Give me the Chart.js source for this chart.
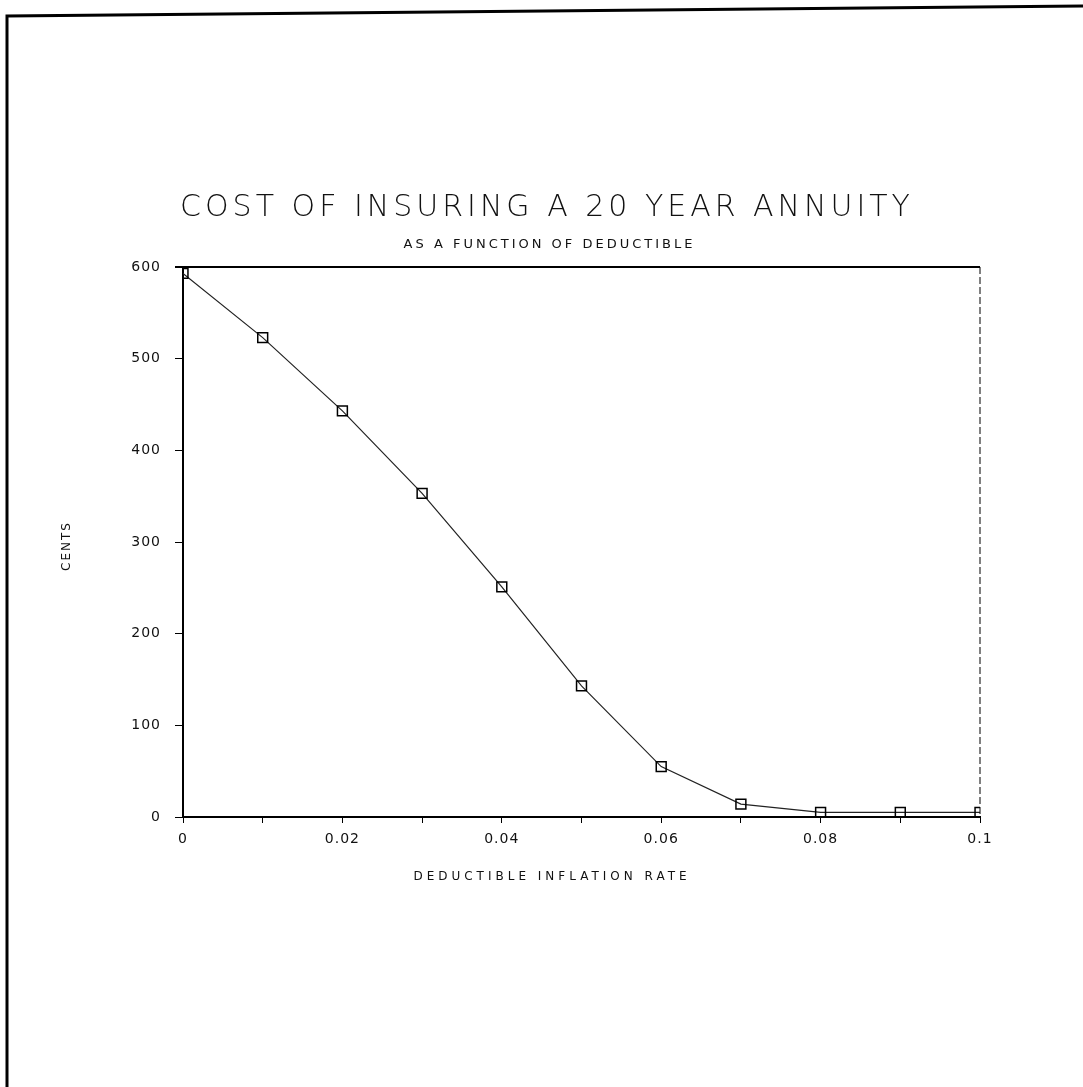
<!DOCTYPE html>
<html>
<head>
<meta charset="utf-8">
<title>Cost of insuring a 20 year annuity</title>
<script src="https://cdn.jsdelivr.net/npm/chart.js@4.4.1/dist/chart.umd.min.js"></script>
<style>
  html, body { margin: 0; padding: 0; background: #fff; }
  #wrap { width: 1083px; height: 1087px; }
</style>
</head>
<body>
<div id="wrap"><canvas id="annuityChart" width="1083" height="1087"></canvas></div>
<script>
// data
const rates = [0, 0.01, 0.02, 0.03, 0.04, 0.05, 0.06, 0.07, 0.08, 0.09, 0.1];
const costs = [593, 523, 443, 353, 251, 143, 55, 14, 5, 5, 5];
const xTickLabels = ['0', '0.02', '0.04', '0.06', '0.08', '0.1'];
const yTickLabels = ['0', '100', '200', '300', '400', '500', '600'];

const mainTitle = 'COST OF INSURING A 20 YEAR ANNUITY';
const subTitle = 'AS A FUNCTION OF DEDUCTIBLE';
const xTitle = 'DEDUCTIBLE INFLATION RATE';
const yTitle = 'CENTS';

const FONT = '"DejaVu Sans", "Liberation Sans", sans-serif';

// texte espacé (letterSpacing) dessiné à la main
function spacedText(ctx, text, x, y, font, spacing, rotate) {
    ctx.save();
    ctx.font = font;
    ctx.letterSpacing = spacing + 'px';
    ctx.fillStyle = '#111';
    ctx.textAlign = 'center';
    ctx.textBaseline = 'middle';
    ctx.translate(x, y);
    if (rotate) ctx.rotate(-Math.PI / 2);
    ctx.fillText(text, spacing / 2, 0);
    ctx.restore();
}

// cadre de la page + titres
const pagePlugin = {
    id: 'pageFrame',
    beforeDraw(chart) {
        const ctx = chart.ctx;
        ctx.save();
        ctx.fillStyle = '#fff';
        ctx.fillRect(0, 0, chart.width, chart.height);
        ctx.strokeStyle = '#000';
        ctx.lineWidth = 3;
        ctx.beginPath();
        ctx.moveTo(7, 1087);
        ctx.lineTo(7, 16);
        ctx.lineTo(1083, 6);
        ctx.stroke();
        ctx.restore();
        // espacement des graduations
        ctx.letterSpacing = '1px';
    },
    afterDraw(chart) {
        const ctx = chart.ctx;
        const area = chart.chartArea;
        ctx.save();
        ctx.strokeStyle = '#000';
        // bord haut, plein
        ctx.lineWidth = 2;
        ctx.beginPath();
        ctx.moveTo(area.left - 8, area.top);
        ctx.lineTo(area.right, area.top);
        ctx.stroke();
        // bord droit, tirets
        ctx.lineWidth = 1;
        ctx.setLineDash([7, 3]);
        ctx.beginPath();
        ctx.moveTo(area.right, area.top);
        ctx.lineTo(area.right, area.bottom);
        ctx.stroke();
        ctx.restore();

        spacedText(ctx, mainTitle, 545, 208, '200 30px ' + FONT, 4, false);
        spacedText(ctx, subTitle, 548, 245, '13px ' + FONT, 3, false);
        spacedText(ctx, xTitle, 550, 877, '12px ' + FONT, 4, false);
        spacedText(ctx, yTitle, 67, 547, '12px ' + FONT, 2, true);
    }
};

const ctx = document.getElementById('annuityChart').getContext('2d');

new Chart(ctx, {
    type: 'line',
    data: {
        datasets: [{
            label: 'cost',
            data: rates.map((r, i) => ({ x: r, y: costs[i] })),
            borderColor: '#222',
            borderWidth: 1.2,
            pointStyle: 'rect',
            pointRadius: 7,
            pointBorderWidth: 1.5,
            pointBorderColor: '#000',
            pointBackgroundColor: 'rgba(0,0,0,0)',
            tension: 0,
            fill: false
        }]
    },
    options: {
        responsive: false,
        animation: false,
        events: [],
        layout: { padding: { top: 267, right: 103, bottom: 230, left: 0 } },
        plugins: {
            legend: { display: false },
            title: { display: false },
            tooltip: { enabled: false }
        },
        scales: {
            x: {
                type: 'linear',
                min: 0,
                max: 0.1,
                afterFit: s => { s.height = 40; },
                afterBuildTicks: s => {
                    s.ticks = rates.map(v => ({ value: v }));
                },
                ticks: {
                    autoSkip: false,
                    maxRotation: 0,
                    padding: 8,
                    color: '#111',
                    font: { family: FONT, size: 14 },
                    callback: (v, i) => (i % 2 === 0 ? xTickLabels[i / 2] : '')
                },
                grid: { drawOnChartArea: false, tickLength: 6, color: '#000', lineWidth: 1 },
                border: { display: true, color: '#000', width: 2 }
            },
            y: {
                min: 0,
                max: 600,
                afterFit: s => { s.width = 183; },
                ticks: {
                    stepSize: 100,
                    padding: 14,
                    color: '#111',
                    font: { family: FONT, size: 14 },
                    callback: (v, i) => yTickLabels[i]
                },
                grid: { drawOnChartArea: false, tickLength: 8, color: '#000', lineWidth: 1 },
                border: { display: true, color: '#000', width: 2 }
            }
        }
    },
    plugins: [pagePlugin]
});
</script>
</body>
</html>
